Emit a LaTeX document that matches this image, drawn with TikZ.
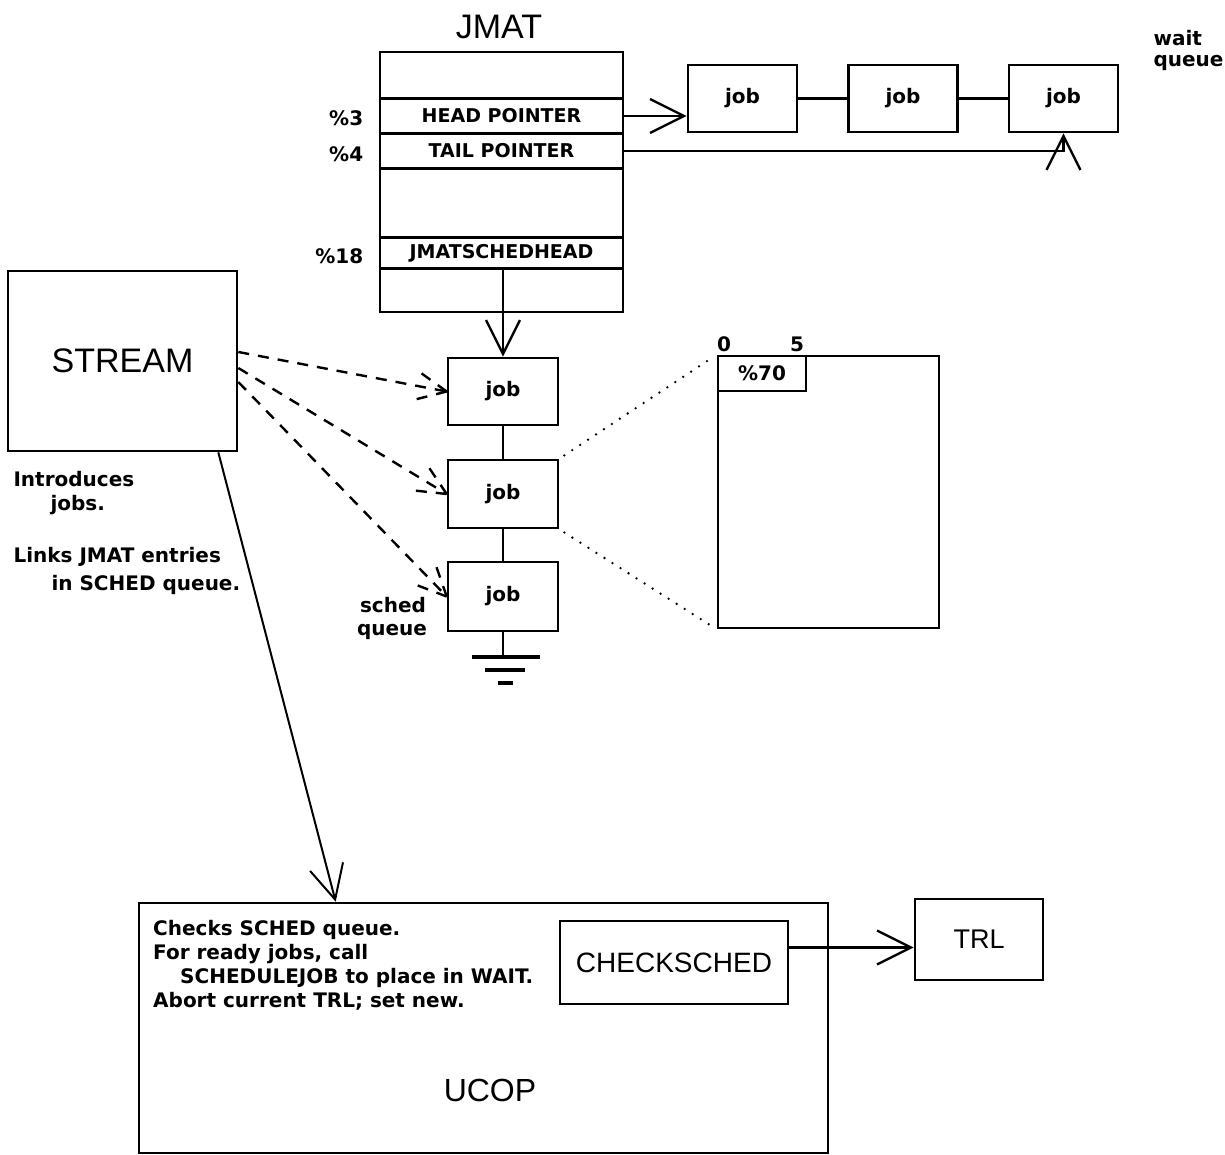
\documentclass[tikz,border=0pt]{standalone}
\usepackage{fontspec}
\setmainfont{Liberation Sans}
\newfontfamily\plotfont{DejaVu Sans}
\usetikzlibrary{arrows.meta,calc}
\begin{document}
\begin{tikzpicture}[x=1pt,y=-1pt,
  box/.style={draw, line width=2.6pt, rectangle, inner sep=0pt},
  row/.style={draw, line width=2.6pt, rectangle, inner sep=0pt, minimum width=243pt},
  small/.style={font=\plotfont\bfseries\fontsize{20}{24}\selectfont},
  rowtxt/.style={font=\plotfont\bfseries\fontsize{19}{22}\selectfont},
  big/.style={font=\fontsize{34}{40}\selectfont},
  arr/.style={line width=2.4pt, -{Straight Barb[length=34pt,width=34pt]}},
  thin/.style={line width=2.4pt},
  dsh/.style={line width=2.4pt, dash pattern=on 11pt off 9pt},
  dots/.style={line width=2.6pt, line cap=round, dash pattern=on 0pt off 9.5pt},
]
\useasboundingbox (0,0) rectangle (1225,1155);

% JMAT table
\node[big] (jmattitle) at (499,27) {JMAT};
\node[row, minimum height=46pt] (r0) at (501.5,75) {};
\node[row, minimum height=35pt, rowtxt] (headrow) at (501.5,116) {HEAD POINTER};
\node[row, minimum height=35pt, rowtxt] (tailrow) at (501.5,151) {TAIL POINTER};
\node[row, minimum height=69pt] (r3) at (501.5,202.5) {};
\node[row, minimum height=31pt, rowtxt] (schedrow) at (501.5,253) {JMATSCHEDHEAD};
\node[row, minimum height=44pt] (r5) at (501.5,290) {};
\node[small, anchor=east] (l3) at ($(headrow.west)+(-12,2)$) {\%3};
\node[small, anchor=east] (l4) at ($(tailrow.west)+(-12,3)$) {\%4};
\node[small, anchor=east] (l18) at ($(schedrow.west)+(-12,3)$) {\%18};

% wait queue
\node[box, minimum width=109pt, minimum height=67pt, small] (w1) at (742.5,98.5) {job};
\node[box, minimum width=109pt, minimum height=67pt, small] (w2) at (903,98.5) {job};
\node[box, minimum width=109pt, minimum height=67pt, small] (w3) at (1063.5,98.5) {job};
\draw[thin] (w1) -- (w2);
\draw[thin] (w2) -- (w3);
\node[small, anchor=west] (waitlbl) at (1150,38) {wait};
\node[small, anchor=west] (queuelbl) at (1150,63) {queue};
\draw[arr] (headrow.east) -- (w1.west |- headrow.east);
\draw[arr] (tailrow.east) -- (w3.south |- tailrow.east) -- (w3.south);

% sched queue
\node[box, minimum width=110pt, minimum height=67pt, small] (s1) at (503,391.5) {job};
\node[box, minimum width=110pt, minimum height=68pt, small] (s2) at (503,494) {job};
\node[box, minimum width=110pt, minimum height=69pt, small] (s3) at (503,596.5) {job};
\draw[arr] (s1.north |- schedrow.south) -- (s1.north);
\draw[thin] (s1) -- (s2);
\draw[thin] (s2) -- (s3);
\coordinate (gnd) at (503,657);
\draw[thin] (s3.south) -- (gnd);
\draw[line width=4pt] ($(gnd)+(-31,0)$) -- ($(gnd)+(37,0)$);
\draw[line width=4pt] ($(gnd)+(-18,13)$) -- ($(gnd)+(22,13)$);
\draw[line width=4pt] ($(gnd)+(-5,26)$) -- ($(gnd)+(10,26)$);
\node[small] (schedlbl) at (393,605) {sched};
\node[small] (squeuelbl) at (392,632) {queue};

% job record
\node[box, minimum width=221pt, minimum height=272pt] (frame) at (828.5,492) {};
\node[box, minimum width=88pt, minimum height=35pt, small] (f70) at (762,373.5) {\%70};
\node[small] (zero) at (724,344) {0};
\node[small] (five) at (797,344) {5};
\draw[dots, shorten <=6pt, shorten >=6pt] (s2.north east) -- (frame.north west);
\draw[dots, shorten <=6pt, shorten >=6pt] (s2.south east) -- (frame.south west);

% STREAM
\node[box, minimum width=229pt, minimum height=180pt, big] (stream) at (122.5,361) {STREAM};
\node[small, anchor=west] (t1) at (10,479) {Introduces};
\node[small, anchor=west] (t2) at (47,505) {jobs.};
\node[small, anchor=west] (t3) at (10,557) {Links JMAT entries};
\node[small, anchor=west] (t4) at (48,585) {in SCHED queue.};

\coordinate (ds1) at ($(stream.east)+(0,-9)$);
\coordinate (ds2) at ($(stream.east)+(0,7)$);
\coordinate (ds3) at ($(stream.east)+(0,21)$);
\draw[dsh] (ds1) -- (s1.west);
\draw[dsh] (s1.west) -- ($(s1.west)!32pt!25:(ds1)$);
\draw[dsh] (s1.west) -- ($(s1.west)!32pt!-25:(ds1)$);
\draw[dsh] (ds2) -- (s2.west);
\draw[dsh] (s2.west) -- ($(s2.west)!32pt!25:(ds2)$);
\draw[dsh] (s2.west) -- ($(s2.west)!32pt!-25:(ds2)$);
\draw[dsh] (ds3) -- (s3.west);
\draw[dsh] (s3.west) -- ($(s3.west)!32pt!25:(ds3)$);
\draw[dsh] (s3.west) -- ($(s3.west)!32pt!-25:(ds3)$);

% UCOP
\node[box, minimum width=689pt, minimum height=250pt] (ucop) at (483.5,1028) {};
\node[font=\fontsize{32}{36}\selectfont] (ucoplbl) at (490,1090) {UCOP};
\node[small, anchor=north west, align=left, inner sep=0pt] (ucoptxt) at (153,920)
  {Checks SCHED queue.\\For ready jobs, call\\\hspace*{27pt}SCHEDULEJOB to place in WAIT.\\Abort current TRL; set new.};
\node[box, minimum width=228pt, minimum height=83pt, font=\fontsize{28}{32}\selectfont] (chk) at (674,962.5) {CHECKSCHED};
\node[box, minimum width=128pt, minimum height=81pt, font=\fontsize{27}{32}\selectfont] (trl) at (979,939.5) {TRL};
\coordinate (chkout) at ($(chk.east)+(0,-15)$);
\draw[arr] (chkout) -- (trl.west |- chkout);
\draw[arr, line width=2pt] ($(stream.south east)+(-20,0)$) -- ($(ucop.north west)+(198,0)$);
\end{tikzpicture}
\end{document}
